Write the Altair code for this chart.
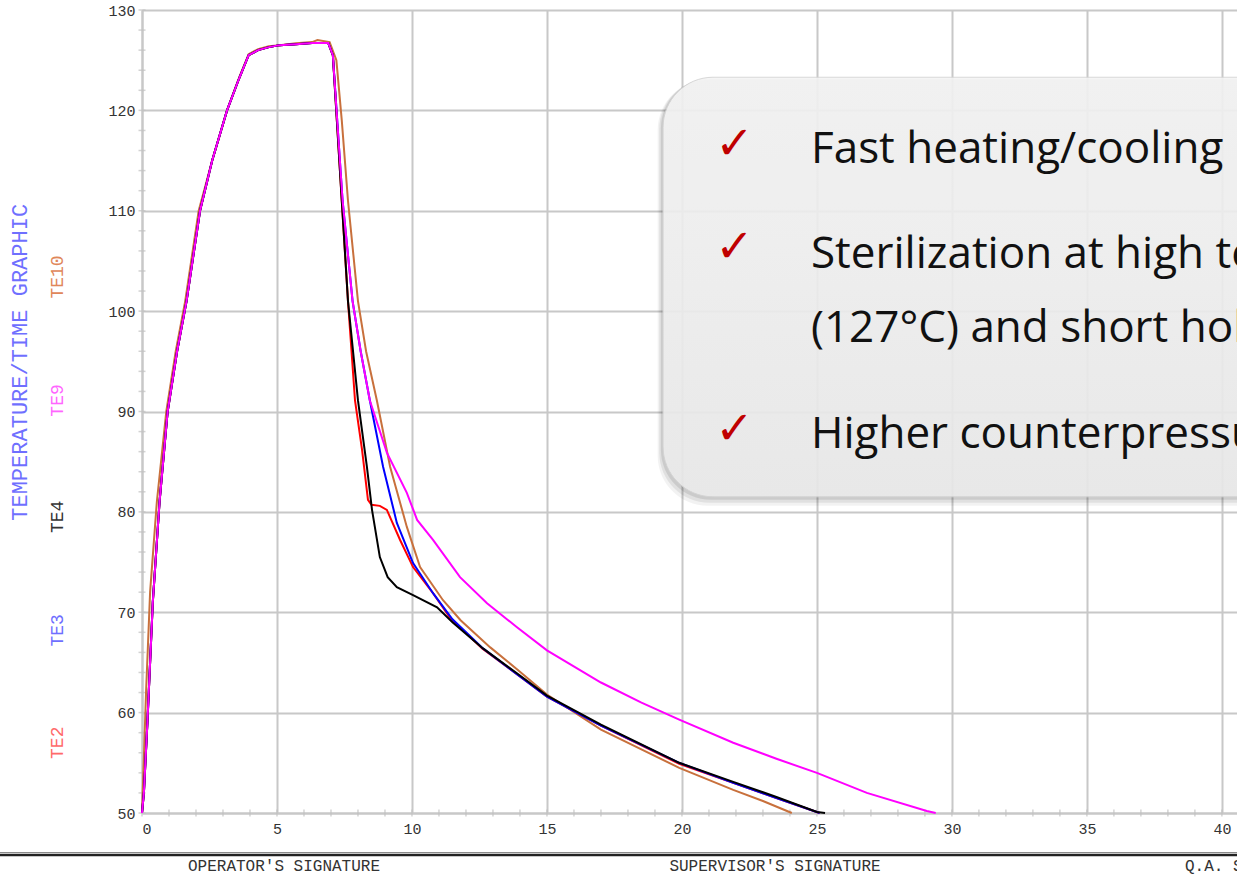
import altair as alt
import pandas as pd

# ---------------- data ----------------
series_names = ["TE10", "TE2", "TE3", "TE4", "TE9"]
series_colors = ["#c8703c", "#ff0000", "#0000ff", "#000000", "#ff00ff"]

te10_x = [0, 0.05, 0.15, 0.3, 0.55, 0.9, 1.25, 1.6, 2.1, 2.6, 3.15, 3.6, 3.95, 4.3, 4.7, 5.1, 5.7, 6.3, 6.5, 6.95,
          7.2, 7.4, 7.63, 8.0, 8.3, 8.7, 9.19, 9.81, 10.3, 11.15, 11.8, 12.9, 13.9, 15.0, 17.0, 19.9, 21.9, 23.0, 24.07]
te10_y = [50, 54, 62, 72, 81, 90, 96, 101, 110, 115, 120, 123.3, 125.6, 126.1, 126.4, 126.5, 126.7, 126.8, 127.0, 126.8,
          125.0, 119, 111, 101, 96, 91.1, 84.5, 78.5, 74.5, 71.2, 69.2, 66.5, 64.3, 61.8, 58.3, 54.5, 52.3, 51.2, 50.0]

te2_x = [0, 0.07, 0.2, 0.4, 0.65, 0.95, 1.3, 1.65, 2.15, 2.6, 3.15, 3.6, 3.95, 4.3, 4.7, 5.1, 5.7, 6.3, 6.9,
         7.07, 7.4, 7.63, 7.89, 8.15, 8.37, 8.5, 8.81, 9.07, 9.56, 10.04, 10.78, 11.4, 12.6, 13.9, 15.0, 17.0,
         19.9, 21.9, 23.5, 25.1]
te2_y = [50, 52, 59, 71, 81, 90, 96, 101, 110, 115, 120, 123.2, 125.5, 126.0, 126.3, 126.5, 126.6, 126.7, 126.7,
         125.5, 111, 101, 91.1, 86.2, 81.2, 80.7, 80.6, 80.2, 77.2, 74.5, 71.9, 69.5, 66.4, 63.8, 61.6, 58.7,
         54.9, 53.0, 51.5, 50.0]

te3_x = [0, 0.07, 0.2, 0.4, 0.65, 0.95, 1.3, 1.65, 2.15, 2.6, 3.15, 3.6, 3.95, 4.3, 4.7, 5.1, 5.7, 6.3, 6.9,
         7.07, 7.43, 7.8, 8.1, 8.44, 8.93, 9.44, 10.04, 10.78, 11.5, 12.63, 13.9, 15.0, 17.0, 19.9, 21.9, 23.5, 25.1]
te3_y = [50, 52, 59, 71, 81, 90, 96, 101, 110, 115, 120, 123.2, 125.5, 126.0, 126.3, 126.5, 126.6, 126.7, 126.7,
         125.5, 111, 101, 96, 91.1, 84.5, 78.9, 74.9, 71.9, 69.3, 66.4, 63.8, 61.6, 58.7, 55.0, 53.0, 51.5, 50.0]

te4_x = [0, 0.07, 0.2, 0.4, 0.65, 0.95, 1.3, 1.65, 2.15, 2.6, 3.15, 3.6, 3.95, 4.3, 4.7, 5.1, 5.7, 6.3, 6.9,
         7.07, 7.4, 7.63, 8.0, 8.33, 8.52, 8.81, 9.1, 9.44, 10.04, 10.93, 11.5, 12.63, 13.9, 15.0, 17.0, 19.9,
         21.9, 23.5, 25.0, 25.3]
te4_y = [50, 52, 59, 71, 81, 90, 96, 101, 110, 115, 120, 123.2, 125.5, 126.0, 126.3, 126.5, 126.6, 126.7, 126.7,
         125.5, 111, 101, 91.1, 84.5, 80.2, 75.5, 73.5, 72.5, 71.7, 70.5, 69.0, 66.4, 63.9, 61.7, 58.8, 55.0,
         53.1, 51.6, 50.1, 50.0]

te9_x = [0, 0.07, 0.2, 0.4, 0.65, 0.95, 1.3, 1.65, 2.15, 2.6, 3.15, 3.6, 3.95, 4.3, 4.7, 5.1, 5.7, 6.3, 6.9,
         7.07, 7.43, 7.8, 8.1, 8.44, 9.07, 9.81, 10.19, 10.78, 11.78, 12.78, 13.89, 15.0, 17.0, 18.5, 19.9, 21.9,
         23.5, 25.0, 26.85, 29.07, 29.4]
te9_y = [50, 52, 59, 71, 81, 90, 96, 101, 110, 115, 120, 123.2, 125.5, 126.0, 126.3, 126.5, 126.6, 126.7, 126.7,
         125.5, 111, 101, 96, 91.1, 85.9, 81.9, 79.2, 77.2, 73.5, 70.9, 68.5, 66.2, 63.0, 61.0, 59.3, 57.0,
         55.4, 54.0, 52.0, 50.2, 50.0]

x_tick_labels = [0, 5, 10, 15, 20, 25, 30, 35, 40]
y_tick_labels = [50, 60, 70, 80, 90, 100, 110, 120, 130]
x_minor = list(range(0, 41))
y_minor = list(range(50, 131, 2))

side_labels = ["TE10", "TE9", "TE4", "TE3", "TE2"]
side_colors = ["#e0875a", "#ff66ff", "#333333", "#6f6fff", "#ff6a6a"]
side_title = "TEMPERATURE/TIME GRAPHIC"

callout_lines = ["Fast heating/cooling",
                 "Sterilization at high temperature",
                 "(127°C) and short holding time",
                 "Higher counterpressure"]
signatures = ["OPERATOR'S SIGNATURE", "SUPERVISOR'S SIGNATURE", "Q.A. SIGNATURE"]

# ---------------- build table ----------------
all_series = {"TE10": (te10_x, te10_y), "TE2": (te2_x, te2_y), "TE3": (te3_x, te3_y),
              "TE4": (te4_x, te4_y), "TE9": (te9_x, te9_y)}
rows = []
for name in series_names:
    xs, ys = all_series[name]
    for i, (a, b) in enumerate(zip(xs, ys)):
        rows.append({"series": name, "t": a, "temp": b, "i": i})
df = pd.DataFrame(rows)
one = pd.DataFrame({"k": [0]})

W, H = 1095, 803
mono = "Liberation Mono"

x_scale = alt.Scale(domain=[0, 40.56], nice=False, zero=False)
y_scale = alt.Scale(domain=[50, 130], nice=False, zero=False)
x_axis = alt.Axis(values=x_tick_labels, title=None, grid=True, gridColor="#c8c8c8", gridWidth=2,
                  domainColor="#c8c8c8", domainWidth=2, ticks=False, labelFont=mono, labelFontSize=15,
                  labelColor="#333333", labelPadding=8)
y_axis = alt.Axis(values=y_tick_labels, title=None, grid=True, gridColor="#c8c8c8", gridWidth=2,
                  domainColor="#c8c8c8", domainWidth=2, ticks=False, labelFont=mono, labelFontSize=15,
                  labelColor="#333333", labelPadding=7)


def X(field=None, datum=None):
    if datum is not None:
        return alt.X(datum=datum, scale=x_scale, axis=x_axis)
    return alt.X(field, scale=x_scale, axis=x_axis)


def Y(field=None, datum=None):
    if datum is not None:
        return alt.Y(datum=datum, scale=y_scale, axis=y_axis)
    return alt.Y(field, scale=y_scale, axis=y_axis)


layers = []

# minor ticks
layers.append(alt.Chart(pd.DataFrame({"t": x_minor})).mark_tick(
    orient="vertical", size=7, thickness=1.5, color="#c0c0c0").encode(x=X("t:Q"), y=Y(datum=50)))
layers.append(alt.Chart(pd.DataFrame({"temp": y_minor})).mark_tick(
    orient="horizontal", size=7, thickness=1.5, color="#c0c0c0").encode(x=X(datum=0), y=Y("temp:Q")))

# lines
layers.append(alt.Chart(df).mark_line(strokeWidth=2).encode(
    x=X("t:Q"), y=Y("temp:Q"),
    color=alt.Color("series:N", scale=alt.Scale(domain=series_names, range=series_colors), legend=None,
                    sort=series_names),
    order="i:Q"))

# callout box: shadow + box
box_l, box_r, box_t, box_b = 19.3, 46.0, 123.3, 81.5
for k, (dx, dy, op) in enumerate([(0.2, 0.9, 0.05), (0.14, 0.6, 0.07), (0.08, 0.3, 0.09)]):
    layers.append(alt.Chart(one).mark_rect(cornerRadius=50, color="#000000", opacity=op, clip=True).encode(
        x=X(datum=box_l - dx), x2=alt.X2(datum=box_r), y=Y(datum=box_t - dy * 0.3), y2=alt.Y2(datum=box_b - dy)))
layers.append(alt.Chart(one).mark_rect(
    cornerRadius=50, stroke="#d4d4d4", strokeWidth=1, opacity=0.9, clip=True,
    fill=alt.Gradient(gradient="linear", x1=0, y1=0, x2=0, y2=1,
                      stops=[alt.GradientStop(color="#f6f6f6", offset=0),
                             alt.GradientStop(color="#ececec", offset=1)])).encode(
    x=X(datum=box_l), x2=alt.X2(datum=box_r), y=Y(datum=box_t), y2=alt.Y2(datum=box_b)))

# text baselines (in temperature units) and check-mark centres
line_base = [114.74, 104.28, 96.91, 86.35]
for txt, yv in zip(callout_lines, line_base):
    layers.append(alt.Chart(one).mark_text(
        text=txt, align="left", baseline="alphabetic", font="Open Sans", fontSize=44, color="#111111",
        clip=True).encode(x=X(datum=24.78), y=Y(datum=yv)))
for yv in [116.6, 106.3, 88.2]:
    layers.append(alt.Chart(one).mark_text(
        text="✓", align="center", baseline="middle", font="DejaVu Sans", fontSize=46, color="#c00000").encode(
        x=X(datum=21.95), y=Y(datum=yv)))

# left vertical labels
layers.append(alt.Chart(one).mark_text(
    text=side_title, angle=270, align="center", baseline="middle", font=mono, fontSize=22,
    color="#6f6fff").encode(x=alt.value(-122), y=Y(datum=94.9)))
side_y = [103.4, 91.1, 79.5, 68.2, 57.0]
for txt, col, yv in zip(side_labels, side_colors, side_y):
    layers.append(alt.Chart(one).mark_text(
        text=txt, angle=270, align="center", baseline="middle", font=mono, fontSize=18,
        color=col).encode(x=alt.value(-84), y=Y(datum=yv)))

# bottom double rule and signature captions
layers.append(alt.Chart(one).mark_rule(color="#8a8a8a", strokeWidth=1).encode(
    x=alt.value(-142), x2=alt.value(W), y=alt.value(842.5)))
layers.append(alt.Chart(one).mark_rule(color="#222222", strokeWidth=2.5).encode(
    x=alt.value(-142), x2=alt.value(W), y=alt.value(845)))
for txt, xp, al in zip(signatures, [142, 633, 1043], ["center", "center", "left"]):
    layers.append(alt.Chart(one).mark_text(
        text=txt, align=al, baseline="middle", font=mono, fontSize=16, color="#333333").encode(
        x=alt.value(xp), y=alt.value(856)))

chart = alt.layer(*layers).properties(
    width=W, height=H,
    autosize=alt.AutoSizeParams(type="none"),
    padding={"left": 142, "top": 10, "right": 0, "bottom": 63},
).configure_view(stroke=None).configure(background="white")

chart.save("out.html", embed_options={"renderer": "svg", "actions": False})
